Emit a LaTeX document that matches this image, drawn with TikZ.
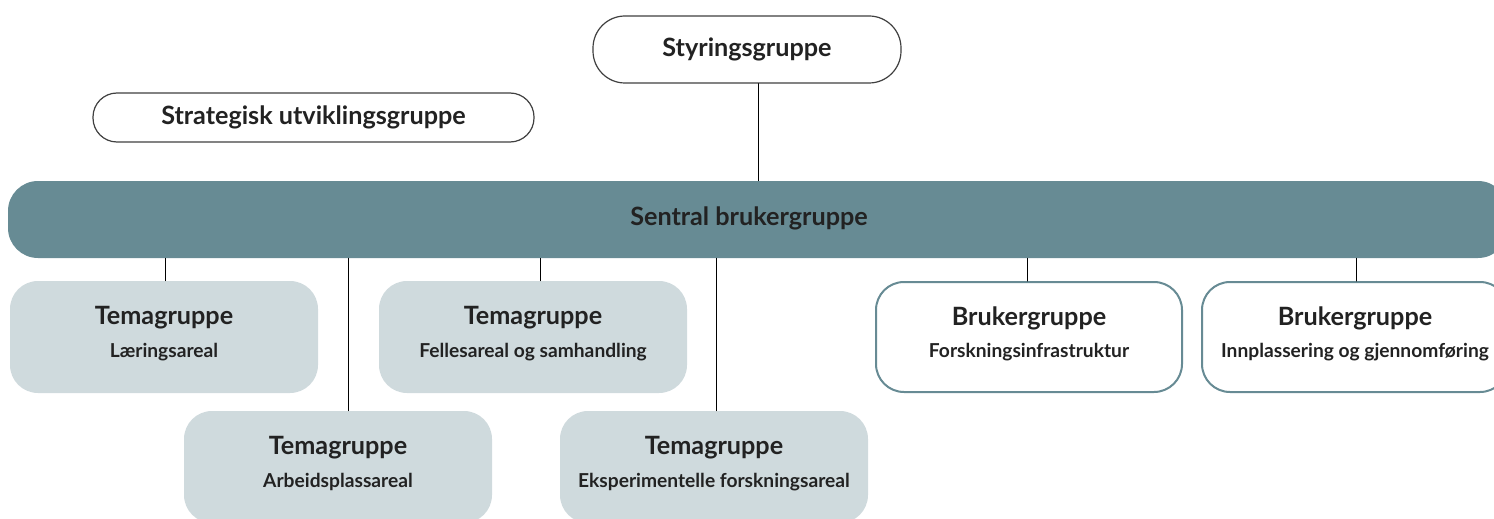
\documentclass[tikz,border=0pt]{standalone}
\usepackage{fontspec}
\setmainfont{Lato}
\definecolor{bargreen}{HTML}{678B94}
\definecolor{temafill}{HTML}{CFDADD}
\definecolor{inktext}{HTML}{222222}
\begin{document}
\begin{tikzpicture}[x=0.5pt,y=-0.5pt,line join=round,line cap=round,font=\bfseries,text=inktext]
				\tikzset{every node/.style={inner sep=0pt,align=center},
					pill/.style={draw=black!75,line width=0.6pt,rounded corners=16pt,fill=white,font=\fontsize{12.6}{14}\selectfont\bfseries},
					tema/.style={fill=temafill,rounded corners=14pt,minimum width=154pt,minimum height=56pt},
					bruker/.style={draw=bargreen,line width=1pt,fill=white,rounded corners=14pt,minimum width=153pt,minimum height=55pt},
					head/.style={font=\fontsize{12.6}{14}\selectfont\bfseries},
					sub/.style={font=\fontsize{9.6}{11}\selectfont\bfseries}}
				\useasboundingbox (0,0) rectangle (1494,519);
				\clip (0,0) rectangle (1494,519);
				\node[pill,minimum width=154pt,minimum height=33.5pt] (styring) at (747,49.5) {Styringsgruppe};
				\node[pill,minimum width=220.5pt,minimum height=24.5pt,rounded corners=12pt] (strategisk) at (313.5,117.5) {Strategisk utviklingsgruppe};
				\node[fill=bargreen,rounded corners=15pt,minimum width=750pt,minimum height=38.5pt] (sentral) at (758,219.5) {};
				\node[head] (sentraltxt) at (749,218) {Sentral brukergruppe};
				\node[tema] (tema1) at (164,337) {};
				\node[tema] (tema2) at (338,467) {};
				\node[tema] (tema3) at (533,337) {};
				\node[tema] (tema4) at (714,467) {};
				\node[bruker] (bruker1) at (1029,337) {};
				\node[bruker] (bruker2) at (1355,337) {};
				\foreach \b/\h/\s/\y in {tema1/Temagruppe/Læringsareal/318, tema2/Temagruppe/Arbeidsplassareal/448,
					tema3/Temagruppe/Fellesareal og samhandling/318, tema4/Temagruppe/Eksperimentelle forskningsareal/448,
					bruker1/Brukergruppe/Forskningsinfrastruktur/318, bruker2/Brukergruppe/Innplassering og gjennomføring/318}
				{
					\node[head] at (\b.center |- 0,\y) {\h};
					\node[sub] at (\b.center |- 0,\y+34) {\s};
				}
				\draw[line width=0.5pt] ([xshift=5.5pt]styring.south) -- ([xshift=5.5pt]styring.south |- sentral.north);
				\draw[line width=0.5pt] ([xshift=0.5pt]tema1.north) -- ([xshift=0.5pt]tema1.north |- sentral.south);
				\draw[line width=0.5pt] ([xshift=5pt]tema2.north) -- ([xshift=5pt]tema2.north |- sentral.south);
				\draw[line width=0.5pt] ([xshift=3.5pt]tema3.north) -- ([xshift=3.5pt]tema3.north |- sentral.south);
				\draw[line width=0.5pt] ([xshift=1pt]tema4.north) -- ([xshift=1pt]tema4.north |- sentral.south);
				\draw[line width=0.5pt] ([xshift=-1pt]bruker1.north) -- ([xshift=-1pt]bruker1.north |- sentral.south);
				\draw[line width=0.5pt] ([xshift=0.5pt]bruker2.north) -- ([xshift=0.5pt]bruker2.north |- sentral.south);
			\end{tikzpicture}
\end{document}
